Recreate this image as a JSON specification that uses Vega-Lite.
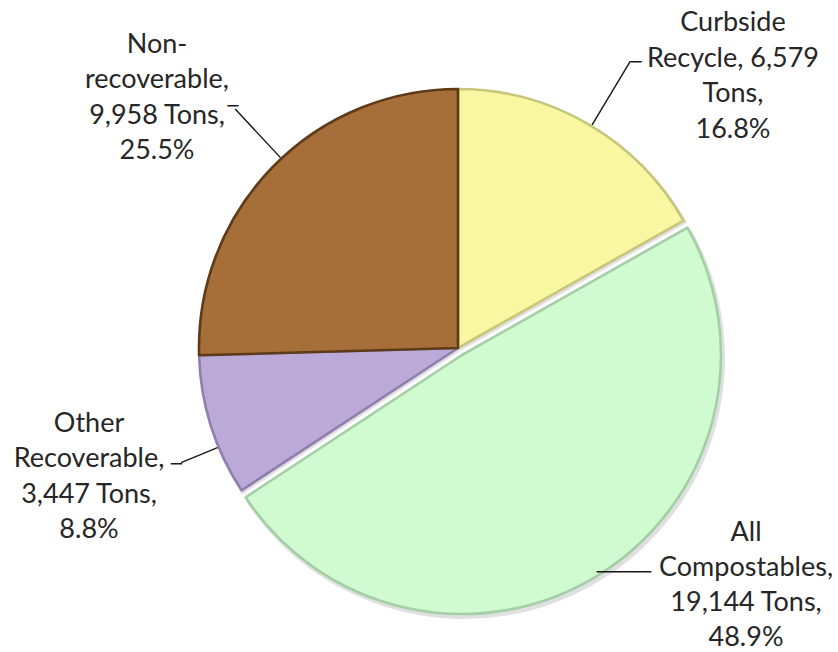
{
  "$schema": "https://vega.github.io/schema/vega-lite/v6.json",
  "width": 760,
  "height": 608,
  "autosize": "none",
  "padding": {"left": 78, "top": 44, "right": 0, "bottom": 0},
  "background": "white",
  "config": {"view": {"stroke": null}},
  "data": {
    "values": [
      {"category": "Curbside Recycle", "tons": 6579, "percent": 16.8, "order": 1, "label": "Curbside\nRecycle, 6,579\nTons,\n16.8%"},
      {"category": "All Compostables", "tons": 19144, "percent": 48.9, "order": 2, "label": "All\nCompostables,\n19,144 Tons,\n48.9%"},
      {"category": "Other Recoverable", "tons": 3447, "percent": 8.8, "order": 3, "label": "Other\nRecoverable,\n3,447 Tons,\n8.8%"},
      {"category": "Non-recoverable", "tons": 9958, "percent": 25.5, "order": 4, "label": "Non-\nrecoverable,\n9,958 Tons,\n25.5%"}
    ]
  },
  "transform": [
    {"stack": "tons", "groupby": [], "sort": [{"field": "order", "order": "ascending"}], "offset": "normalize", "as": ["t0", "t1"]}
  ],
  "encoding": {
    "theta": {"field": "t0", "type": "quantitative", "scale": {"domain": [0, 1]}}
  },
  "layer": [
    {
      "transform": [{"filter": "datum.category !== 'All Compostables'"}],
      "mark": {"type": "arc", "outerRadius": 261, "xOffset": 2, "yOffset": 3, "fill": "#000000", "fillOpacity": 0.12, "strokeWidth": 0},
      "encoding": {"theta2": {"field": "t1"}}
    },
    {
      "transform": [{"filter": "datum.category === 'All Compostables'"}],
      "mark": {"type": "arc", "outerRadius": 261, "xOffset": 6, "yOffset": 10, "fill": "#000000", "fillOpacity": 0.12, "strokeWidth": 0},
      "encoding": {"theta2": {"field": "t1"}}
    },
    {
      "transform": [{"filter": "datum.category !== 'All Compostables'"}],
      "mark": {"type": "arc", "outerRadius": 259, "strokeWidth": 2.6, "strokeJoin": "round"},
      "encoding": {
        "theta2": {"field": "t1"},
        "fill": {"field": "category", "type": "nominal", "legend": null,
          "scale": {"domain": ["Curbside Recycle", "All Compostables", "Other Recoverable", "Non-recoverable"],
                    "range": ["#F9F7A2", "#D0FAD0", "#BBA9D7", "#A66E39"]}},
        "stroke": {"field": "category", "type": "nominal", "legend": null,
          "scale": {"domain": ["Curbside Recycle", "All Compostables", "Other Recoverable", "Non-recoverable"],
                    "range": ["#C9C57A", "#A3CFA6", "#8F7FAF", "#5E3A18"]}}
      }
    },
    {
      "transform": [{"filter": "datum.category === 'All Compostables'"}],
      "mark": {"type": "arc", "outerRadius": 259, "xOffset": 4, "yOffset": 7, "strokeWidth": 2.6, "strokeJoin": "round"},
      "encoding": {
        "theta2": {"field": "t1"},
        "fill": {"field": "category", "type": "nominal", "legend": null},
        "stroke": {"field": "category", "type": "nominal", "legend": null}
      }
    },
    {
      "transform": [{"filter": "datum.category === 'Curbside Recycle'"}],
      "mark": {"type": "arc", "innerRadius": 261, "outerRadius": 334, "thetaOffset": 0.5411, "theta2Offset": -0.5154, "filled": false, "stroke": "#1a1a1a", "strokeWidth": 1.4},
      "encoding": {"theta2": {"field": "t1"}}
    },
    {
      "transform": [{"filter": "datum.category === 'Other Recoverable'"}],
      "mark": {"type": "arc", "innerRadius": 261, "outerRadius": 299, "thetaOffset": 0.1892, "theta2Offset": -0.3644, "filled": false, "stroke": "#1a1a1a", "strokeWidth": 1.4},
      "encoding": {"theta2": {"field": "t1"}}
    },
    {
      "transform": [{"filter": "datum.category === 'Non-recoverable'"}],
      "mark": {"type": "arc", "innerRadius": 261, "outerRadius": 326, "thetaOffset": 0.8486, "theta2Offset": -0.7505, "filled": false, "stroke": "#1a1a1a", "strokeWidth": 1.4},
      "encoding": {"theta2": {"field": "t1"}}
    },
    {
      "transform": [{"filter": "datum.category === 'All Compostables'"}],
      "mark": {"type": "text", "radius": 279.6, "thetaOffset": 1.4498, "font": "DejaVu Sans", "fontSize": 18, "align": "center", "baseline": "middle", "color": "#1a1a1a"},
      "encoding": {"text": {"value": "─────"}}
    },
    {
      "transform": [{"filter": "datum.category === 'Curbside Recycle'"}],
      "mark": {"type": "text", "radius": 336, "thetaOffset": 0.5585, "font": "DejaVu Sans", "fontSize": 18, "align": "center", "baseline": "middle", "color": "#1a1a1a"},
      "encoding": {"text": {"value": "─"}}
    },
    {
      "transform": [{"filter": "datum.category === 'Other Recoverable'"}],
      "mark": {"type": "text", "radius": 304.8, "thetaOffset": 0.188, "font": "DejaVu Sans", "fontSize": 18, "align": "center", "baseline": "middle", "color": "#1a1a1a"},
      "encoding": {"text": {"value": "─"}}
    },
    {
      "transform": [{"filter": "datum.category === 'Non-recoverable'"}],
      "mark": {"type": "text", "radius": 329.7, "thetaOffset": 0.848, "font": "DejaVu Sans", "fontSize": 18, "align": "center", "baseline": "middle", "color": "#1a1a1a"},
      "encoding": {"text": {"value": "─"}}
    },
    {
      "transform": [{"filter": "datum.category === 'Curbside Recycle'"}],
      "mark": {"type": "text", "radius": 425.7, "thetaOffset": 0.7023, "font": "Lato", "fontSize": 27, "lineHeight": 35.5, "lineBreak": "\n", "align": "center", "baseline": "middle", "color": "#262626"},
      "encoding": {"text": {"field": "label"}}
    },
    {
      "transform": [{"filter": "datum.category === 'All Compostables'"}],
      "mark": {"type": "text", "radius": 342.3, "thetaOffset": 1.0852, "font": "Lato", "fontSize": 27, "lineHeight": 35, "lineBreak": "\n", "align": "center", "baseline": "middle", "color": "#262626"},
      "encoding": {"text": {"field": "label"}}
    },
    {
      "transform": [{"filter": "datum.category === 'Other Recoverable'"}],
      "mark": {"type": "text", "radius": 376.7, "thetaOffset": 0.3787, "font": "Lato", "fontSize": 27, "lineHeight": 35.5, "lineBreak": "\n", "align": "center", "baseline": "middle", "color": "#262626"},
      "encoding": {"text": {"field": "label"}}
    },
    {
      "transform": [{"filter": "datum.category === 'Non-recoverable'"}],
      "mark": {"type": "text", "radius": 427.1, "thetaOffset": 0.817, "font": "Lato", "fontSize": 27, "lineHeight": 35.5, "lineBreak": "\n", "align": "center", "baseline": "middle", "color": "#262626"},
      "encoding": {"text": {"field": "label"}}
    }
  ]
}
